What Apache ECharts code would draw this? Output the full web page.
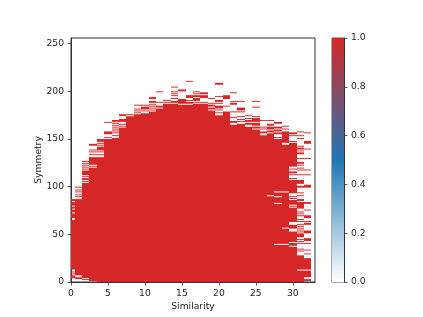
<!DOCTYPE html>
<html><head><meta charset="utf-8">
<style>html,body{margin:0;padding:0;background:#fff}#c{width:423px;height:317px}</style>
<script src="https://cdn.jsdelivr.net/npm/echarts@6/dist/echarts.min.js"></script>
</head><body><div id="c"></div>
<script>
// Red row runs [fromRow, toRow] for each Similarity column 0..32
const col00=[[4,7],[8,9],[10,11],[13,65],[67,72],[73,76],[77,79],[80,84],[85,87]];
const col01=[[3,5],[7,87],[89,90],[91,92],[94,95],[96,97],[99,100]];
const col02=[[2,3],[4,104],[105,106],[107,109],[110,111],[112,117],[118,119],[120,121],[122,123],[124,125],[126,127]];
const col03=[[1,120],[121,122],[123,131],[133,134],[136,137],[138,139],[143,145]];
const col04=[[0,131],[133,134],[136,137],[138,142],[143,144],[145,146],[147,150]];
const col05=[[0,150],[151,152],[155,158],[167,168]];
const col06=[[0,151],[153,154],[156,157],[158,159],[160,161],[162,163],[164,165],[166,167],[168,170]];
const col07=[[0,162],[163,164],[165,166],[168,171],[174,176]];
const col08=[[0,174],[175,176]];
const col09=[[0,176],[177,178],[179,180],[181,182],[185,186]];
const col10=[[0,177],[179,180],[181,184],[185,186]];
const col11=[[0,179],[180,181],[182,183],[184,185],[186,187],[188,190],[192,194]];
const col12=[[0,182],[183,185],[188,189],[199,200]];
const col13=[[0,187],[188,189],[190,191]];
const col14=[[0,187],[188,190],[192,193],[195,196],[197,198],[199,200],[204,205]];
const col15=[[0,186],[187,192],[200,202]];
const col16=[[0,186],[187,189],[190,191],[193,196],[210,211]];
const col17=[[0,187],[188,189],[190,193],[194,196],[197,198],[199,200]];
const col18=[[0,187],[188,189],[193,196],[197,199]];
const col19=[[0,180],[181,183],[184,186],[187,188],[192,193]];
const col20=[[0,175],[177,178],[180,181],[182,185],[187,188],[189,191],[194,195],[207,209]];
const col21=[[0,179],[184,185],[192,196]];
const col22=[[0,165],[167,169],[172,173],[178,179],[186,188],[189,190],[198,199]];
const col23=[[0,166],[168,169],[170,171],[173,174],[178,179],[180,183],[189,190]];
const col24=[[0,163],[165,167],[168,170],[171,172],[174,175]];
const col25=[[0,160],[161,163],[164,167],[168,172],[173,174],[183,184],[189,190]];
const col26=[[0,154],[156,158],[160,161],[162,163],[169,170]];
const col27=[[0,90],[91,156],[157,159],[160,163],[164,166],[169,170]];
const col28=[[0,39],[40,82],[83,89],[90,94],[95,150],[151,152],[155,157],[158,160],[161,163],[166,168]];
const col29=[[0,39],[40,56],[57,94],[95,144],[146,158],[160,161],[163,164]];
const col30=[[0,37],[38,41],[42,53],[56,60],[63,78],[79,80],[81,86],[87,88],[89,90],[93,107],[108,109],[112,113],[114,116],[118,119],[121,146],[147,148],[153,154],[155,157]];
const col31=[[0,12],[13,28],[32,33],[34,35],[40,41],[42,43],[44,45],[47,51],[52,53],[54,55],[56,57],[58,59],[60,61],[63,64],[65,66],[69,70],[71,72],[73,74],[77,84],[85,87],[90,91],[93,94],[99,101],[103,107],[112,113],[117,118],[119,120],[122,123],[124,126],[129,130],[134,136],[137,138],[139,141],[142,143],[150,151],[153,154],[157,158]];
const col32=[[1,3],[5,12],[13,25],[29,30],[33,34],[40,41],[43,46],[51,54],[60,62],[63,64],[67,70],[75,76],[82,84],[99,102],[112,113],[117,118],[129,130],[139,140],[145,148],[156,157]];
const columns=[col00,col01,col02,col03,col04,col05,col06,col07,col08,col09,col10,col11,col12,col13,col14,col15,col16,col17,col18,col19,col20,col21,col22,col23,col24,col25,col26,col27,col28,col29,col30,col31,col32];
const xTicks=[0,5,10,15,20,25,30];
const yTicks=[0,50,100,150,200,250];
const cbarTicks=[0,0.2,0.4,0.6,0.8,1];
const cmapStops=[[0,'#ffffff'],[0.5,'#1f77b4'],[1,'#d62728']];
const xTitle='Similarity', yTitle='Symmetry';

const cells=[];
columns.forEach((runs,c)=>runs.forEach(r=>cells.push([c,r[0],r[1],1])));
const colorAt=v=>{
  const hex=s=>[1,3,5].map(i=>parseInt(s.substr(i,2),16));
  for(let i=1;i<cmapStops.length;i++){
    if(v<=cmapStops[i][0]){
      const t=(v-cmapStops[i-1][0])/(cmapStops[i][0]-cmapStops[i-1][0]);
      const a=hex(cmapStops[i-1][1]),b=hex(cmapStops[i][1]);
      return 'rgb('+a.map((x,k)=>Math.round(x+(b[k]-x)*t)).join(',')+')';
    }
  }
  return cmapStops[cmapStops.length-1][1];
};
const txt={color:'#262626',fontFamily:'DejaVu Sans',fontSize:9.2};
const axisBase=(ticks,margin,fmt)=>({
  axisLine:{show:true,onZero:false,lineStyle:{color:'#333',width:1}},
  axisTick:{show:true,length:3.5,customValues:ticks,lineStyle:{color:'#333',width:.8}},
  splitLine:{show:false},
  axisLabel:Object.assign({margin:margin,customValues:ticks,showMinLabel:true,showMaxLabel:true,hideOverlap:false},fmt?{formatter:fmt}:{},txt),
  nameTextStyle:txt,
  nameMoveOverlap:false
});
const chart=echarts.init(document.getElementById('c'),null,{renderer:'canvas'});
chart.setOption({
  animation:false,
  backgroundColor:'#fff',
  grid:[
    {left:71,top:38,width:244,height:244,show:true,borderColor:'#333',borderWidth:1,backgroundColor:'#fff'},
    {left:332,top:38,width:12,height:244,show:true,borderColor:'#555',borderWidth:1,backgroundColor:'#fff'}
  ],
  xAxis:[
    Object.assign(axisBase(xTicks,7),{type:'value',gridIndex:0,min:0,max:33,name:xTitle,nameLocation:'middle',nameGap:20}),
    {type:'value',gridIndex:1,min:0,max:1,show:false}
  ],
  yAxis:[
    Object.assign(axisBase(yTicks,7),{type:'value',gridIndex:0,min:0,max:256,name:yTitle,nameLocation:'middle',nameGap:28}),
    Object.assign(axisBase(cbarTicks,7,v=>v.toFixed(1)),{type:'value',gridIndex:1,min:0,max:1,position:'right'})
  ],
  series:[
    {type:'custom',xAxisIndex:0,yAxisIndex:0,clip:true,silent:true,encode:{x:0,y:[1,2]},data:cells,
      progressive:0,
      renderItem:(p,api)=>{
        const c=api.value(0),a=api.value(1),b=api.value(2);
        const lo=api.coord([Math.max(c-0.5,0),a]),hi=api.coord([c+0.5,b]);
        const x0=Math.round(lo[0]),x1=Math.round(hi[0]);
        return {type:'rect',shape:{x:x0,y:hi[1],width:x1-x0,height:lo[1]-hi[1]},
          style:{fill:colorAt(api.value(3))}};
      }},
    {type:'custom',xAxisIndex:1,yAxisIndex:1,silent:true,encode:{x:0,y:1},data:[[0,0,1,1]],
      renderItem:(p,api)=>{
        const lo=api.coord([api.value(0),api.value(1)]),hi=api.coord([api.value(2),api.value(3)]);
        return {type:'rect',shape:{x:lo[0],y:hi[1],width:hi[0]-lo[0],height:lo[1]-hi[1]},
          style:{fill:new echarts.graphic.LinearGradient(0,1,0,0,cmapStops.map(s=>({offset:s[0],color:s[1]})))}};
      }}
  ]
});
</script></body></html>
